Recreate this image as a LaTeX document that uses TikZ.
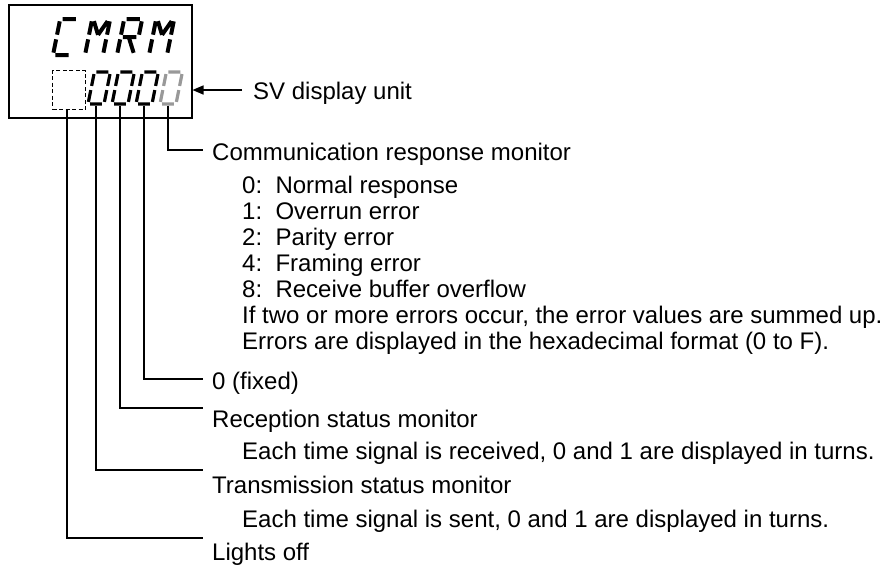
\documentclass[tikz,border=0pt]{standalone}
\usepackage{fontspec}
\setmainfont{Liberation Sans}
\usetikzlibrary{arrows.meta}
\newcommand\sgA{(0.13,-2)--(0.87,-2)}
\newcommand\sgB{(1,-1.87)--(1,-1.13)}
\newcommand\sgC{(1,-0.87)--(1,-0.13)}
\newcommand\sgD{(0.13,0)--(0.87,0)}
\newcommand\sgE{(0,-0.13)--(0,-0.87)}
\newcommand\sgF{(0,-1.13)--(0,-1.87)}
\newcommand\sgG{(0.13,-1)--(0.87,-1)}
\newcommand\sgMl{(0.12,-1.88)--(0.5,-1.12)}
\newcommand\sgMr{(0.88,-1.88)--(0.5,-1.12)}
\newcommand\sgRl{(0.5,-0.9)--(0.9,-0.12)}
\begin{document}
\begin{tikzpicture}[x=1pt,y=-1pt,
  lbl/.style={anchor=base west, inner sep=0pt, font=\fontsize{24}{26}\selectfont},
  conn/.style={line width=1.5pt},
  bigseg/.style={line width=4pt},
  smallseg/.style={line width=3.2pt},
  dimseg/.style={line width=3.2pt, draw=black!40},
]
\useasboundingbox (0,0) rectangle (889,566);
\fill[white] (0,0) rectangle (889,566);

% display frame
\node[draw, line width=1.5pt, minimum width=183pt, minimum height=113pt, anchor=north west, inner sep=0pt] (disp) at (8,4) {};

% top row CMRM
\begin{scope}[shift={(53,55)}, xslant=0.2, scale=18]
  \draw[bigseg] \sgA \sgD \sgE \sgF;
\end{scope}
\begin{scope}[shift={(85,55)}, xslant=0.2, scale=18]
  \draw[bigseg] \sgB \sgC \sgE \sgF \sgMl \sgMr;
\end{scope}
\begin{scope}[shift={(117,55)}, xslant=0.2, scale=18]
  \draw[bigseg] \sgA \sgB \sgE \sgF \sgG \sgRl;
\end{scope}
\begin{scope}[shift={(149,55)}, xslant=0.2, scale=18]
  \draw[bigseg] \sgB \sgC \sgE \sgF \sgMl \sgMr;
\end{scope}

% bottom row
\node[draw, line width=1pt, dash pattern=on 4pt off 2.5pt, minimum width=33pt, minimum height=39pt, anchor=north west, inner sep=0pt] (blank) at (52,70) {};
\foreach \x in {88,112,136}{
  \begin{scope}[shift={(\x,104)}, xslant=0.2, scale=16]
    \draw[smallseg] \sgA \sgB \sgC \sgD \sgE \sgF;
  \end{scope}
}
\begin{scope}[shift={(160,104)}, xslant=0.2, scale=16]
  \draw[dimseg] \sgA \sgB \sgC \sgD \sgE \sgF;
\end{scope}

% connector start points (digit bottoms)
\coordinate (p0) at (67,109);
\coordinate (p1) at (96,105.5);
\coordinate (p2) at (120,105.5);
\coordinate (p3) at (144,105.5);
\coordinate (p4) at (168,105.5);
% connector end points
\coordinate (q4) at (203,150);
\coordinate (q3) at (203,379);
\coordinate (q2) at (203,408);
\coordinate (q1) at (203,470);
\coordinate (q0) at (203,538);

% labels
\node[lbl] (sv) at (253,99) {SV display unit};
\node[lbl] (comm) at (212,160) {Communication response monitor};
\node[lbl] (c0) at (242,193) {0:\ \ Normal response};
\node[lbl] (c1) at (242,219) {1:\ \ Overrun error};
\node[lbl] (c2) at (242,245) {2:\ \ Parity error};
\node[lbl] (c4) at (242,271) {4:\ \ Framing error};
\node[lbl] (c8) at (242,297) {8:\ \ Receive buffer overflow};
\node[lbl] (cif) at (242,323) {If two or more errors occur, the error values are summed up.};
\node[lbl] (cerr) at (242,349) {Errors are displayed in the hexadecimal format (0 to F).};
\node[lbl] (fixed) at (212,389) {0 (fixed)};
\node[lbl] (recv) at (212,427) {Reception status monitor};
\node[lbl] (recvd) at (242,459) {Each time signal is received, 0 and 1 are displayed in turns.};
\node[lbl] (send) at (212,493) {Transmission status monitor};
\node[lbl] (sendd) at (242,527) {Each time signal is sent, 0 and 1 are displayed in turns.};
\node[lbl] (off) at (212,560) {Lights off};

% connectors
\draw[conn] (p4) |- (q4);
\draw[conn] (p3) |- (q3);
\draw[conn] (p2) |- (q2);
\draw[conn] (p1) |- (q1);
\draw[conn] (p0) |- (q0);

% SV arrow
\coordinate (svs) at (242,90);
\coordinate (svt) at (192.5,90);
\draw[conn, -{Triangle[length=11pt,width=9pt]}] (svs) -- (svt);
\end{tikzpicture}
\end{document}
